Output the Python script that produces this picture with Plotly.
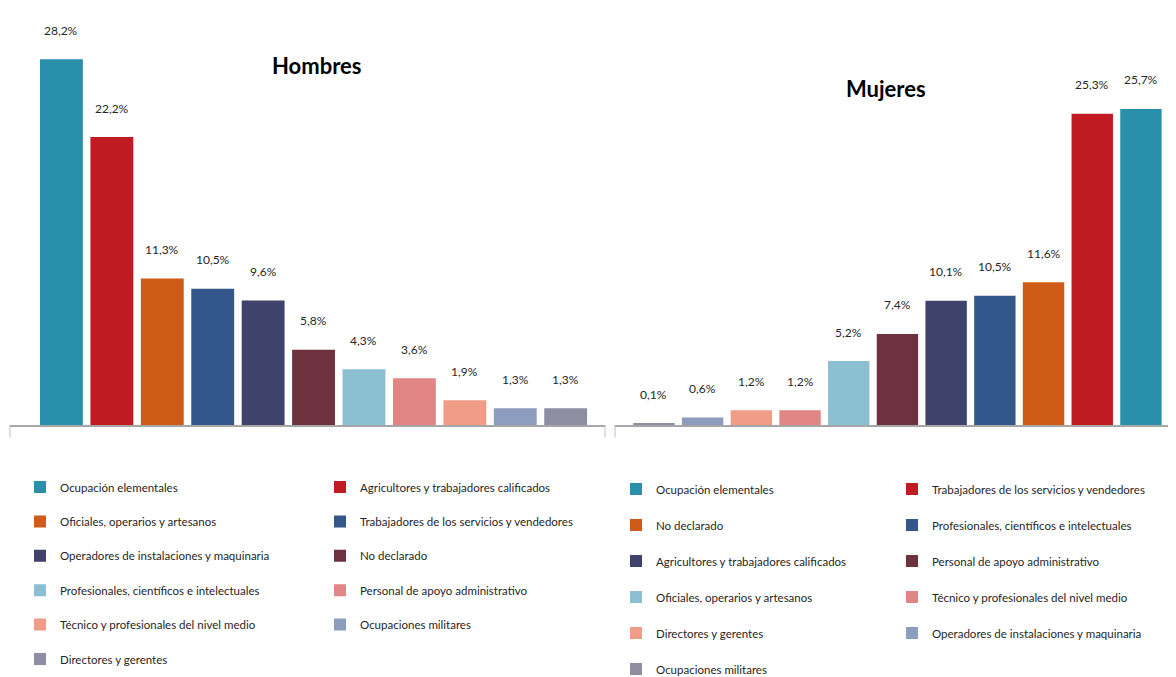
import plotly.graph_objects as go

FONT = "Lato, Carlito, Liberation Sans, sans-serif"

# ---- Hombres (left panel), in bar order ----
h_categories = [
    "Ocupación elementales",
    "Agricultores y trabajadores calificados",
    "Oficiales, operarios y artesanos",
    "Trabajadores de los servicios y vendedores",
    "Operadores de instalaciones y maquinaria",
    "No declarado",
    "Profesionales, científicos e intelectuales",
    "Personal de apoyo administrativo",
    "Técnico y profesionales del nivel medio",
    "Ocupaciones militares",
    "Directores y gerentes",
]
h_values = [28.2, 22.2, 11.3, 10.5, 9.6, 5.8, 4.3, 3.6, 1.9, 1.3, 1.3]

# ---- Mujeres (right panel), in legend order (bars are drawn reversed) ----
m_categories = [
    "Ocupación elementales",
    "Trabajadores de los servicios y vendedores",
    "No declarado",
    "Profesionales, científicos e intelectuales",
    "Agricultores y trabajadores calificados",
    "Personal de apoyo administrativo",
    "Oficiales, operarios y artesanos",
    "Técnico y profesionales del nivel medio",
    "Directores y gerentes",
    "Operadores de instalaciones y maquinaria",
    "Ocupaciones militares",
]
m_values = [25.7, 25.3, 11.6, 10.5, 10.1, 7.4, 5.2, 1.2, 1.2, 0.6, 0.1]

palette = [
    "#2A8FAA", "#C01B23", "#D05A18", "#33578A", "#3F426B", "#6E323F",
    "#8CBFD1", "#E28585", "#F09C86", "#8C9DBE", "#8E8DA1",
]

panel_titles = ["Hombres", "Mujeres"]


def fmt(v):
    return f"{v:.1f}".replace(".", ",") + "%"


# page has an 8px body margin: work in figure pixels = page pixels - 8
OFF = 8
W, H = 1176 - OFF, 677 - OFF


def px_x(p):
    return (p - OFF) / W


def px_y(p):
    return 1 - (p - OFF) / H


fig = go.Figure()

panels = [
    ("x", "y", h_categories, h_values, ("legend", "legend2")),
    ("x2", "y2", m_categories, m_values, ("legend3", "legend4")),
]

for p, (xa, ya, cats, vals, legs) in enumerate(panels):
    for i, (c, v) in enumerate(zip(cats, vals)):
        fig.add_trace(go.Bar(
            x=[c], y=[v], name=c,
            marker=dict(color=palette[i], line=dict(width=0)),
            xaxis=xa, yaxis=ya,
            legend=legs[i % 2],
            legendgroup=f"p{p}_{i}",
            showlegend=True,
            hoverinfo="skip",
        ))
        fig.add_annotation(
            x=c, y=v, xref=xa, yref=ya, text=fmt(v), showarrow=False,
            yanchor="middle", yshift=29,
            font=dict(family=FONT, size=12, color="#262626"),
        )

base_px = 425
top_px = 10
y_dom = [px_y(base_px), px_y(top_px)]

axis_common = dict(showticklabels=False, ticks="", showgrid=False, zeroline=False)

fig.update_layout(
    width=W, height=H, autosize=False,
    margin=dict(l=0, r=0, t=0, b=0, autoexpand=False),
    paper_bgcolor="white", plot_bgcolor="white",
    barmode="overlay", bargap=0.15,
    font=dict(family=FONT, size=12, color="#262626"),
    xaxis=dict(domain=[px_x(10), px_x(605)], type="category",
               categoryorder="array", categoryarray=h_categories,
               range=[-1.02, 10.78], showline=True, linecolor="#A6A6A6",
               linewidth=2, anchor="y", **axis_common),
    yaxis=dict(domain=y_dom, range=[0, (base_px - top_px) / 12.97],
               showline=False, anchor="x", **axis_common),
    xaxis2=dict(domain=[px_x(615), 1.0], type="category",
                categoryorder="array", categoryarray=m_categories[::-1],
                range=[-0.8, 10.72], showline=True, linecolor="#A6A6A6",
                linewidth=2, anchor="y2", **axis_common),
    yaxis2=dict(domain=y_dom, range=[0, (base_px - top_px) / 12.3],
                showline=False, anchor="x2", **axis_common),
)

leg_font = dict(family=FONT, size=11.5, color="#262626")
leg_common = dict(orientation="v", xanchor="left", yanchor="top",
                  bgcolor="rgba(0,0,0,0)", borderwidth=0,
                  traceorder="grouped", font=leg_font, itemclick=False,
                  itemdoubleclick=False)

fig.update_layout(
    legend=dict(x=px_x(20), y=px_y(472.5), tracegroupgap=15.4, **leg_common),
    legend2=dict(x=px_x(320), y=px_y(472.5), tracegroupgap=15.4, **leg_common),
    legend3=dict(x=px_x(616), y=px_y(474.5), tracegroupgap=17, **leg_common),
    legend4=dict(x=px_x(892), y=px_y(474.5), tracegroupgap=17, **leg_common),
)

# panel titles
for t, (xp, yp) in [(panel_titles[0], (316, 65)), (panel_titles[1], (886, 88))]:
    fig.add_annotation(
        x=px_x(xp), y=px_y(yp), xref="paper", yref="paper", text=f"<b>{t}</b>",
        showarrow=False, xanchor="center", yanchor="middle",
        font=dict(family=FONT, size=22, color="#000000"),
    )

# small frame ticks below the baselines
for xr, yr, xs in [("x domain", "y domain", [0, 1]), ("x2 domain", "y2 domain", [0])]:
    for xv in xs:
        fig.add_shape(type="line", xref=xr, yref=yr, x0=xv, x1=xv, y0=0, y1=-0.03,
                      line=dict(color="#BFBFBF", width=1))

fig.write_html("out.html")
